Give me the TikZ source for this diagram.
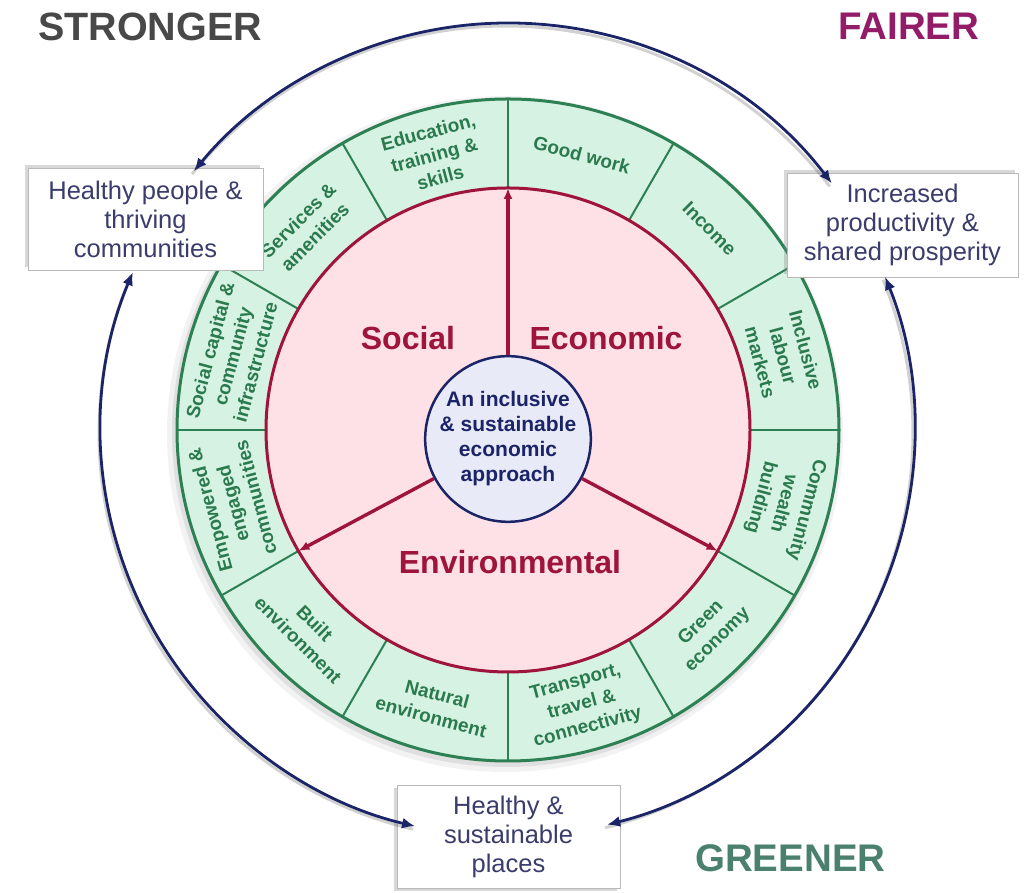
\documentclass[tikz,border=0pt]{standalone}
\usepackage{fontspec}
\setmainfont{Liberation Sans}
\usetikzlibrary{arrows.meta,calc,shadows}

\definecolor{ringgreen}{RGB}{44,128,84}
\definecolor{ringfill}{RGB}{214,242,226}
\definecolor{segtextcol}{RGB}{42,122,78}
\definecolor{pinkfill}{RGB}{253,225,231}
\definecolor{crimson}{RGB}{158,20,58}
\definecolor{navy}{RGB}{28,36,104}
\definecolor{corefill}{RGB}{232,234,248}
\definecolor{boxtext}{RGB}{58,60,108}
\definecolor{strongergrey}{RGB}{72,72,72}
\definecolor{fairerpurple}{RGB}{146,28,104}
\definecolor{greenerteal}{RGB}{74,128,110}

\tikzset{
  corner/.style={font=\fontsize{38.5}{40}\selectfont\bfseries, inner sep=0pt, anchor=base west},
  outcome/.style={draw=gray!55, line width=0.8pt, fill=white, text=boxtext, align=center,
    font=\fontsize{25.5}{29}\selectfont, inner sep=0pt},
  segtext/.style={text=segtextcol, align=center, font=\fontsize{19}{23.5}\selectfont\bfseries, inner sep=0pt},
  pillar/.style={text=crimson, font=\fontsize{32}{34}\selectfont\bfseries, inner sep=0pt},
  navyarc/.style={draw=navy, line width=2.8pt,
    {Latex[length=13pt,width=11pt]}-{Latex[length=13pt,width=11pt]}},
  arcshade/.style={draw=black, opacity=0.18, line width=3pt},
  pillararrow/.style={draw=crimson, line width=3.4pt, -{Latex[length=11pt,width=9pt]}},
}

\begin{document}
\begin{tikzpicture}[x=1pt,y=1pt]
\useasboundingbox (0,0) rectangle (1029,893);
\fill[white] (0,0) rectangle (1029,893);

\coordinate (C) at (508,463);

% headline words in the corners
\node[corner, text=strongergrey, font=\fontsize{39.5}{41}\selectfont\bfseries] (stronger) at (38,852) {STRONGER};
\node[corner, text=fairerpurple] (fairer) at (838,853) {FAIRER};
\node[corner, text=greenerteal] (greener) at (695,21) {GREENER};

% soft shadow under the outer ring
\fill[black, opacity=0.05] ($(C)+(-3,-4)$) circle (338);
\fill[black, opacity=0.08] ($(C)+(-2,-3)$) circle (334);

% green ring of twelve themes
\fill[ringfill] (C) circle (331);
\foreach \a in {0,30,...,330}
  \draw[ringgreen, line width=2pt] ($(C)+(\a:242)$) -- ($(C)+(\a:331)$);
\draw[ringgreen, line width=3pt] (C) circle (331);

% pink inner disc
\draw[crimson, line width=3pt, fill=pinkfill] (C) circle (242);

% core circle
\node[circle, draw=navy, line width=2.5pt, fill=corefill, minimum size=160pt, inner sep=0pt,
  text=navy, align=center, font=\fontsize{21}{25}\selectfont\bfseries] (core) at (508,454)
  {An inclusive\\\& sustainable\\economic\\approach};

% arrows to the three pillars
\coordinate (tipUp) at ($(C)+(90:242)$);
\coordinate (tipLeft) at ($(C)+(210:242)$);
\coordinate (tipRight) at ($(C)+(330:242)$);
\draw[pillararrow] (core) -- (tipUp);
\draw[pillararrow] (core) -- (tipLeft);
\draw[pillararrow] (core) -- (tipRight);

\node[pillar] (social) at (408,555) {Social};
\node[pillar] (economic) at (606,555) {Economic};
\node[pillar] (environmental) at (510,331) {Environmental};

% theme labels set along the ring
\foreach \nm/\ang/\rot/\txt in {
  sgood/75/-15/{Good work},
  sincome/45/-45/{Income},
  slabour/15/-75/{Inclusive\\labour\\markets},
  swealth/-15/-105/{Community\\wealth\\building},
  sgreen/-45/45/{Green\\economy},
  stransport/-75/15/{Transport,\\travel \&\\connectivity},
  snatural/-105/-15/{Natural\\environment},
  sbuilt/-135/-45/{Built\\environment},
  sempower/195/105/{Empowered \&\\engaged\\communities},
  scapital/165/75/{Social capital \&\\community\\infrastructure},
  sservices/135/45/{Services \&\\amenities},
  seducation/105/15/{Education,\\training \&\\skills}}
  \node[segtext, rotate=\rot] (\nm) at ($(C)+(\ang:285)$) {\txt};

% outcome boxes
\node[outcome, minimum width=235pt, minimum height=102pt,
  drop shadow={shadow xshift=-3pt, shadow yshift=3pt, opacity=0.3}] (people) at (145.5,674)
  {Healthy people \&\\thriving\\communities};
\node[outcome, minimum width=231pt, minimum height=104pt,
  drop shadow={shadow xshift=-3pt, shadow yshift=3pt, opacity=0.3}] (prosperity) at (902.5,668)
  {Increased\\productivity \&\\shared prosperity};
\node[outcome, minimum width=223pt, minimum height=103pt,
  drop shadow={shadow xshift=-3pt, shadow yshift=-3pt, opacity=0.3}] (places) at (508.5,56.5)
  {Healthy \&\\sustainable\\places};

% links between the outcomes, along a wide circle
\coordinate (topR) at ($(C)+(37.3:407)$);
\coordinate (leftT) at ($(C)+(157.2:407)$);
\coordinate (rightB) at ($(C)+(-75.9:407)$);
\draw[arcshade] ($(topR)+(-2,-3)$) arc[start angle=37.3, end angle=140.5, radius=407];
\draw[arcshade] ($(leftT)+(-2,-3)$) arc[start angle=157.2, end angle=256.8, radius=407];
\draw[arcshade] ($(rightB)+(-2,-3)$) arc[start angle=-75.9, end angle=22.1, radius=407];
\draw[navyarc] (topR) arc[start angle=37.3, end angle=140.5, radius=407];
\draw[navyarc] (leftT) arc[start angle=157.2, end angle=256.8, radius=407];
\draw[navyarc] (rightB) arc[start angle=-75.9, end angle=22.1, radius=407];
\end{tikzpicture}
\end{document}
